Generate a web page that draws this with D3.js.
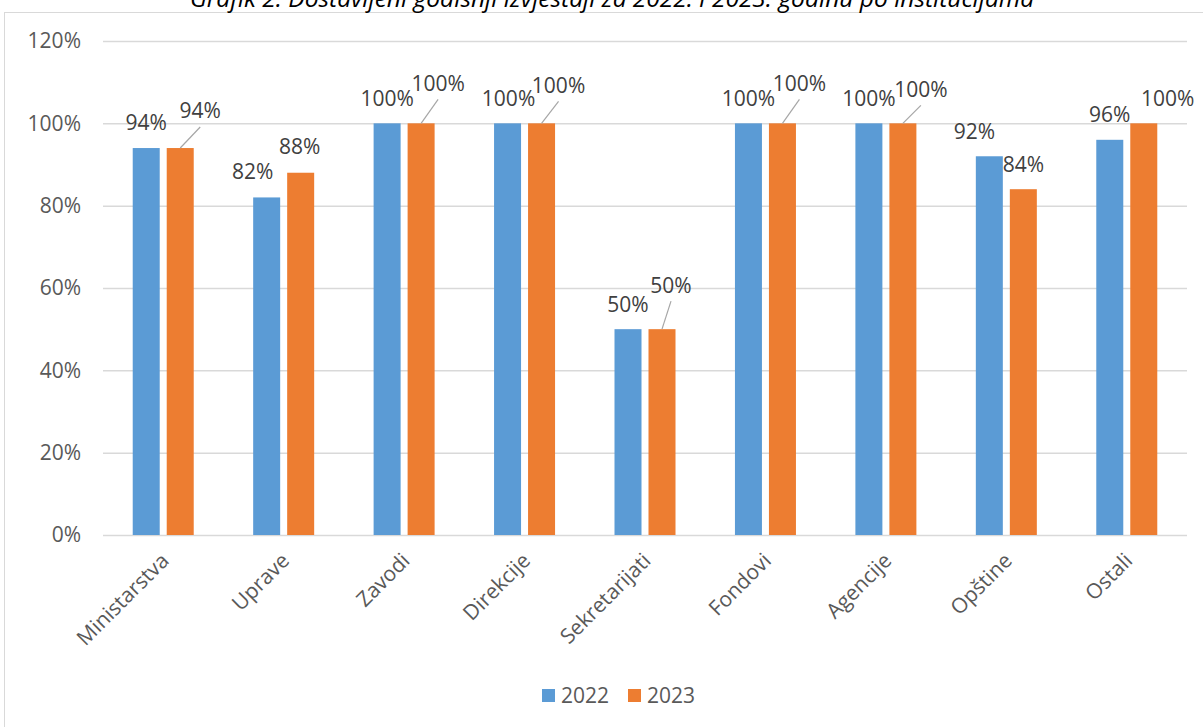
<!DOCTYPE html>
<html>
<head>
<meta charset="utf-8">
<script src="https://cdn.jsdelivr.net/npm/d3@7"></script>
<style>
  body { margin: 0; background: #fff; }
  svg { display: block; font-family: "Open Sans", sans-serif; }
</style>
</head>
<body>
<div id="bars"></div>
<script>
// Daten
const institutions = ["Ministarstva", "Uprave", "Zavodi", "Direkcije", "Sekretarijati", "Fondovi", "Agencije", "Opštine", "Ostali"];
const years = ["2022", "2023"];
const values2022 = [94, 82, 100, 100, 50, 100, 100, 92, 96];
const values2023 = [94, 88, 100, 100, 50, 100, 100, 84, 100];
const yTicks = [0, 20, 40, 60, 80, 100, 120];
const chartTitle = "Grafik 2. Dostavljeni godišnji izvještaji za 2022. i 2023. godinu po institucijama";

// Wo Excel die Labels hingeschoben hat (dx, dy zur Balkenoberkante)
const labelNudge2022 = [[0, -25], [-14, -26], [0, -25], [1, -25], [0, -25], [0, -25], [0, -25], [-15, -25], [0, -25]];
const labelNudge2023 = [[20, -37], [-1, -26], [17, -40], [17, -38], [9, -44], [17, -40], [18, -34], [0, -25], [24, -25]];

const width = 1203;
const height = 727;
const margin = { top: 41, right: 16, bottom: 192, left: 103 };
const innerWidth = width - margin.left - margin.right;
const innerHeight = height - margin.top - margin.bottom;

const colors = { "2022": "#5B9BD5", "2023": "#ED7D31" };

const data = institutions.map((name, i) => ({
  name,
  "2022": values2022[i],
  "2023": values2023[i],
  nudge: { "2022": labelNudge2022[i], "2023": labelNudge2023[i] }
}));

const xScale = d3.scaleBand()
  .domain(institutions)
  .range([0, innerWidth]);

// zwei schmale Balken pro Gruppe, 27px breit, 7px Abstand
const groupWidth = 61;
const xInner = d3.scaleBand()
  .domain(years)
  .range([0, groupWidth])
  .paddingInner(2 - groupWidth / 34);

const yScale = d3.scaleLinear()
  .domain([0, 120])
  .range([innerHeight, 0]);

const svg = d3.select("#bars")
  .append("svg")
  .attr("width", width)
  .attr("height", height);

// Rahmen des Diagrammbereichs
svg.append("rect")
  .attr("x", 4.5)
  .attr("y", 12.5)
  .attr("width", width + 20)
  .attr("height", height + 20)
  .attr("fill", "none")
  .attr("stroke", "#D9D9D9");

// Titel ist im Original oben abgeschnitten
svg.append("text")
  .attr("x", 612)
  .attr("y", 7)
  .attr("text-anchor", "middle")
  .attr("font-style", "italic")
  .attr("font-size", 23)
  .attr("textLength", 844)
  .attr("lengthAdjust", "spacingAndGlyphs")
  .attr("fill", "#000")
  .text(chartTitle);

const innerChart = svg.append("g")
  .attr("transform", `translate(${margin.left}, ${margin.top})`);

// Gitterlinien + y-Achse
const leftAxis = d3.axisLeft(yScale)
  .tickValues(yTicks)
  .tickSize(-innerWidth)
  .tickFormat(d => d + "%");

innerChart.append("g")
  .call(leftAxis)
  .call(g => g.select(".domain").remove())
  .call(g => g.selectAll(".tick line").attr("stroke", "#D9D9D9").attr("stroke-width", 1.5))
  .call(g => g.selectAll(".tick text")
    .attr("x", -22)
    .attr("fill", "#595959")
    .attr("font-size", 21)
    .attr("font-family", "Open Sans, sans-serif"));

// Balken
years.forEach(year => {
  innerChart.selectAll(`.bar-${year}`)
    .data(data)
    .join("rect")
    .attr("class", `bar-${year}`)
    .attr("x", d => xScale(d.name) + (xScale.bandwidth() - groupWidth) / 2 + xInner(year))
    .attr("y", d => yScale(d[year]))
    .attr("width", xInner.bandwidth())
    .attr("height", d => innerHeight - yScale(d[year]))
    .attr("fill", colors[year]);
});

// Datenbeschriftungen, teils mit Führungslinie
const barCenter = (d, year) => xScale(d.name) + (xScale.bandwidth() - groupWidth) / 2 + xInner(year) + xInner.bandwidth() / 2;

years.forEach(year => {
  const labels = innerChart.selectAll(`.label-${year}`)
    .data(data)
    .join("g")
    .attr("class", `label-${year}`);

  labels.filter(d => d.nudge[year][1] < -30)
    .append("line")
    .attr("x1", d => barCenter(d, year))
    .attr("y1", d => yScale(d[year]))
    .attr("x2", d => barCenter(d, year) + d.nudge[year][0])
    .attr("y2", d => yScale(d[year]) + d.nudge[year][1] + 16)
    .attr("stroke", "#A6A6A6")
    .attr("stroke-width", 1.2);

  labels.append("text")
    .attr("x", d => barCenter(d, year) + d.nudge[year][0])
    .attr("y", d => yScale(d[year]) + d.nudge[year][1])
    .attr("dy", "0.35em")
    .attr("text-anchor", "middle")
    .attr("font-size", 21)
    .attr("fill", "#404040")
    .text(d => d[year] + "%");
});

// x-Achse mit schrägen Beschriftungen
const bottomAxis = d3.axisBottom(xScale)
  .tickSize(0)
  .tickSizeOuter(0);

innerChart.append("g")
  .attr("transform", `translate(0, ${innerHeight})`)
  .call(bottomAxis)
  .call(g => g.select(".domain").remove())
  .call(g => g.selectAll(".tick text")
    .attr("font-size", 21)
    .attr("font-family", "Open Sans, sans-serif")
    .attr("fill", "#595959")
    .attr("text-anchor", "end")
    .attr("x", 0)
    .attr("y", 0)
    .attr("dy", 0)
    .attr("transform", "translate(7, 27) rotate(-45)"));

// Legende
const legend = svg.append("g")
  .attr("transform", "translate(542, 689)");

const legendItems = legend.selectAll("g")
  .data(years)
  .join("g")
  .attr("transform", (d, i) => `translate(${i * 86}, 0)`);

legendItems.append("rect")
  .attr("width", 13)
  .attr("height", 13)
  .attr("fill", d => colors[d]);

legendItems.append("text")
  .attr("x", 19)
  .attr("y", 14)
  .attr("font-size", 21)
  .attr("fill", "#595959")
  .text(d => d);
</script>
</body>
</html>
